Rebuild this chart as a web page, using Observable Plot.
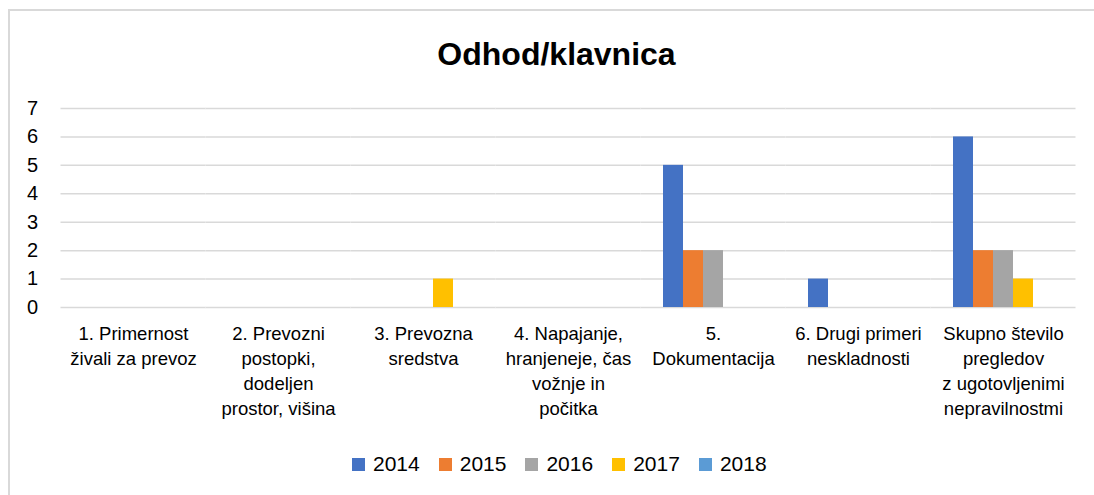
<!DOCTYPE html>
<html>
<head>
<meta charset="utf-8">
<script src="https://cdn.jsdelivr.net/npm/d3@7"></script>
<script src="https://cdn.jsdelivr.net/npm/@observablehq/plot@0.6"></script>
<style>
  html, body { margin: 0; padding: 0; background: #fff; }
  #wrap { position: relative; width: 1094px; height: 495px; overflow: hidden; font-family: "Liberation Sans", Arial, sans-serif; color: #000; }
  #frame { position: absolute; left: 8px; top: 9px; width: 1200px; height: 600px; border-top: 2px solid #d9d9d9; border-left: 2px solid #d9d9d9; }
  #title { position: absolute; left: 0; width: 1113px; top: 38px; text-align: center; font-size: 32px; line-height: 32px; font-weight: bold; }
  #chart { position: absolute; left: 0; top: 0; }
  #legend { position: absolute; left: 352px; top: 452px; display: flex; align-items: center; font-size: 21px; line-height: 24px; }
  .item { display: flex; align-items: center; margin-right: 19px; }
  .sw { width: 13px; height: 13px; margin-right: 8px; }
</style>
</head>
<body>
<div id="wrap">
  <div id="frame"></div>
  <div id="title">Odhod/klavnica</div>
  <div id="chart"></div>
  <div id="legend"></div>
</div>
<script>
const categories = ["c1", "c2", "c3", "c4", "c5", "c6", "c7"];
const categoryLabels = [
  "1. Primernost\nživali za prevoz",
  "2. Prevozni\npostopki,\ndodeljen\nprostor, višina",
  "3. Prevozna\nsredstva",
  "4. Napajanje,\nhranjeneje, čas\nvožnje in\npočitka",
  "5.\nDokumentacija",
  "6. Drugi primeri\nneskladnosti",
  "Skupno število\npregledov\nz ugotovljenimi\nnepravilnostmi"
];
const years = ["2014", "2015", "2016", "2017", "2018"];
const values2014 = [0, 0, 0, 0, 5, 1, 6];
const values2015 = [0, 0, 0, 0, 2, 0, 2];
const values2016 = [0, 0, 0, 0, 2, 0, 2];
const values2017 = [0, 0, 1, 0, 0, 0, 1];
const values2018 = [0, 0, 0, 0, 0, 0, 0];
const yTicks = [0, 1, 2, 3, 4, 5, 6, 7];
const colors = ["#4472C4", "#ED7D31", "#A5A5A5", "#FFC000", "#5B9BD5"];

const series = [values2014, values2015, values2016, values2017, values2018];
const data = [];
categories.forEach((c, i) => {
  years.forEach((y, j) => {
    data.push({category: c, year: y, value: series[j][i]});
  });
});
const labelOf = new Map(categories.map((c, i) => [c, categoryLabels[i]]));

const plot = Plot.plot({
  width: 1094,
  height: 440,
  marginTop: 108,
  marginBottom: 133,
  marginLeft: 60,
  marginRight: 19,
  style: {fontFamily: "'Liberation Sans', Arial, sans-serif", fontSize: "18.5px", color: "#000", background: "transparent"},
  fx: {domain: categories, paddingInner: 45 / 145, paddingOuter: 22.5 / 145, label: null},
  x: {domain: years, padding: 0, axis: null},
  y: {domain: [0, 7], axis: null},
  color: {domain: years, range: colors},
  marks: [
    Plot.ruleY(yTicks, {y: d => d, stroke: "#d9d9d9", strokeWidth: 1.5, insetLeft: -22.5, insetRight: -22.5}),
    Plot.barY(data, {fx: "category", x: "year", y: "value", fill: "year"}),
    Plot.axisY(yTicks, {anchor: "left", tickSize: 0, tickPadding: 45.5, fontSize: 20, label: null}),
    Plot.axisFx({anchor: "bottom", tickSize: 0, tickPadding: 15, tickFormat: d => labelOf.get(d), lineHeight: 25 / 18.5, fontSize: 18.5, label: null})
  ]
});
document.getElementById("chart").appendChild(plot);

const legend = document.getElementById("legend");
years.forEach((y, i) => {
  const item = document.createElement("div");
  item.className = "item";
  const sw = document.createElement("div");
  sw.className = "sw";
  sw.style.background = colors[i];
  const t = document.createElement("span");
  t.textContent = y;
  item.appendChild(sw);
  item.appendChild(t);
  legend.appendChild(item);
});
</script>
</body>
</html>
